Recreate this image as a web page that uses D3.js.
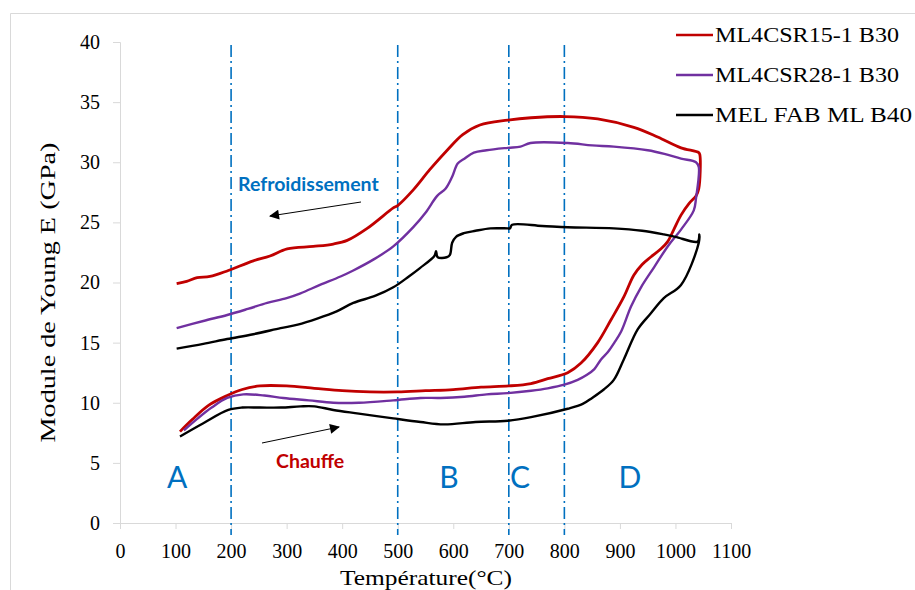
<!DOCTYPE html>
<html>
<head>
<meta charset="utf-8">
<script src="https://cdn.jsdelivr.net/npm/d3@7"></script>
<style>
  body { margin: 0; background: #fff; }
</style>
</head>
<body>
<div id="chart"></div>
<script>
/* Young's modulus vs temperature - heating then cooling loop for 3 samples */

// ML4CSR15-1 B30 (heating then cooling)
const redT = [108,130,160,193,220,252,300,350,400,450,500,550,600,650,700,740,770,806,830,860,884,907,925,940,955,974,986,997,1010,1025,1037,1042,1044,
              1042,1010,968,925,860,800,740,698,648,617,589,558,528,500,492,445,409,384,348,301,270,240,195,162,139,120,102];
const redE = [7.6,8.6,9.8,10.6,11.1,11.4,11.4,11.2,11.0,10.9,10.9,11.0,11.1,11.3,11.4,11.6,12.0,12.5,13.3,15.0,16.9,18.8,20.6,21.5,22.1,22.8,23.4,24.4,25.6,26.6,27.2,27.8,30.6,
              30.8,31.2,32.1,32.9,33.6,33.8,33.7,33.5,33.1,32.3,31.0,29.4,27.7,26.4,26.2,24.5,23.5,23.2,23.0,22.8,22.2,21.8,21.0,20.5,20.4,20.1,19.9];

// ML4CSR28-1 B30
const purpleT = [115,140,165,193,222,260,294,340,384,430,492,541,577,620,660,698,740,770,800,824,840,854,866,878,890,902,920,938,962,986,1010,1033,1037,1042,
                 1037,1010,980,950,889,850,806,739,721,698,660,637,620,608,598,586,571,550,528,492,456,420,397,360,325,300,265,230,193,150,102];
const purpleE = [7.7,8.7,9.6,10.4,10.7,10.6,10.4,10.2,10.0,10.0,10.2,10.4,10.4,10.5,10.7,10.8,11.0,11.2,11.5,11.9,12.3,12.8,13.6,14.2,15.0,15.9,18.0,19.6,21.3,23.0,24.4,26.0,27.0,29.6,
                 30.0,30.3,30.7,31.0,31.3,31.4,31.6,31.6,31.3,31.2,31.0,30.8,30.3,29.9,28.8,27.8,27.2,25.8,24.6,23.0,21.9,21.0,20.5,19.8,19.1,18.7,18.3,17.8,17.3,16.8,16.2];

// MEL FAB ML B40
const blackT = [108,150,195,220,252,290,325,350,384,430,492,541,583,640,698,740,806,833,850,871,889,907,932,955,979,1010,1042,1043,
                1040,1000,979,940,889,806,760,706,702,698,667,640,619,605,598,594,588,572,569,566,540,520,492,460,420,390,355,320,289,240,193,150,102];
const blackE = [7.2,8.3,9.4,9.6,9.6,9.6,9.7,9.7,9.4,9.1,8.7,8.4,8.2,8.4,8.5,8.8,9.5,9.9,10.4,11.1,11.9,13.6,16.1,17.4,18.7,19.8,23.3,24.0,
                23.4,23.8,24.0,24.3,24.5,24.6,24.7,24.8,24.5,24.5,24.5,24.3,24.1,23.8,23.3,22.3,22.1,22.1,22.6,22.2,21.2,20.5,19.6,18.9,18.3,17.6,17.0,16.5,16.2,15.7,15.3,14.9,14.5];

const seriesNames = ["ML4CSR15-1 B30", "ML4CSR28-1 B30", "MEL FAB ML B40"];
const seriesColors = ["#c00000", "#7030a0", "#000000"];

const xTicks = [0,100,200,300,400,500,600,700,800,900,1000,1100];
const yTicks = [0,5,10,15,20,25,30,35,40];

// zone boundaries and labels
const zoneLines = [200, 500, 700, 800];
const zoneLabels = ["A", "B", "C", "D"];
const zoneLabelT = [103, 592, 720, 918];

const width = 915, height = 590,
      margin = ({top: 42, right: 184, bottom: 67, left: 120});

const serif = "'Liberation Serif', 'DejaVu Serif', serif";
const sans = "Lato, 'Open Sans', sans-serif";

const svg = d3.select("#chart")
  .append("svg")
  .attr("width", width)
  .attr("height", height)
  .style("font-family", serif);

const x = d3.scaleLinear()
  .domain([0, 1100])
  .range([margin.left, width - margin.right]);

const y = d3.scaleLinear()
  .domain([0, 40])
  .range([height - margin.bottom, margin.top]);

// chart frame (only top and left visible in the picture)
svg.append("path")
  .attr("d", `M10.5,${height} V13.5 H${width}`)
  .attr("fill", "none")
  .attr("stroke", "#d9d9d9");

const xAxis = g => g
  .attr("transform", `translate(0,${y(0)})`)
  .call(d3.axisBottom(x).tickValues(xTicks).tickFormat(d3.format("d"))
          .tickSizeOuter(0).tickSize(6).tickPadding(15))
  .call(g => g.selectAll("line, path").attr("stroke", "#d9d9d9"))
  .call(g => g.selectAll("text").attr("fill", "#000")
                .style("font-size", "20px").style("font-family", serif));

const yAxis = g => g
  .attr("transform", `translate(${x(0)},0)`)
  .call(d3.axisLeft(y).tickValues(yTicks).tickSizeOuter(0).tickSize(7).tickPadding(13))
  .call(g => g.selectAll("line, path").attr("stroke", "#d9d9d9"))
  .call(g => g.selectAll("text").attr("fill", "#000")
                .style("font-size", "20px").style("font-family", serif));

svg.append("g").call(xAxis);
svg.append("g").call(yAxis);

// axis titles
svg.append("text")
  .attr("x", 426)
  .attr("y", 585)
  .attr("text-anchor", "middle")
  .attr("textLength", 172)
  .attr("lengthAdjust", "spacingAndGlyphs")
  .style("font-size", "21px")
  .text("Température(°C)");

svg.append("text")
  .attr("transform", `translate(55,${(y(0) + y(40)) / 2 + 10}) rotate(-90)`)
  .attr("text-anchor", "middle")
  .attr("textLength", 300)
  .attr("lengthAdjust", "spacingAndGlyphs")
  .style("font-size", "21px")
  .text("Module de Young E (GPa)");

// zone separators, dash-dot
svg.selectAll(".zone")
  .data(zoneLines)
  .join("line")
  .attr("class", "zone")
  .attr("x1", d => x(d)).attr("x2", d => x(d))
  .attr("y1", y(40) + 3).attr("y2", y(0) + 12)
  .attr("stroke", "#0070c0")
  .attr("stroke-width", 1.6)
  .attr("stroke-dasharray", "12,4,2,4");

svg.selectAll(".zlab")
  .data(zoneLabels)
  .join("text")
  .attr("class", "zlab")
  .attr("x", (d, i) => x(zoneLabelT[i]))
  .attr("y", 488)
  .attr("text-anchor", "middle")
  .attr("fill", "#0070c0")
  .style("font-family", sans)
  .style("font-size", "30px")
  .text(d => d);

// curves
const line = d3.line()
  .x(d => x(d[0]))
  .y(d => y(d[1]))
  .curve(d3.curveCatmullRom.alpha(0.5));

const series = [
  d3.zip(redT, redE),
  d3.zip(purpleT, purpleE),
  d3.zip(blackT, blackE)
];

svg.selectAll(".curve")
  .data(series)
  .join("path")
  .attr("class", "curve")
  .attr("d", line)
  .attr("fill", "none")
  .attr("stroke", (d, i) => seriesColors[i])
  .attr("stroke-width", (d, i) => i == 0 ? 2.8 : 2.4)
  .attr("stroke-linejoin", "round");

// arrows + annotations
svg.append("defs").append("marker")
  .attr("id", "head")
  .attr("viewBox", "0 0 10 10")
  .attr("refX", 9).attr("refY", 5)
  .attr("markerWidth", 11).attr("markerHeight", 10)
  .attr("markerUnits", "userSpaceOnUse")
  .attr("orient", "auto")
  .append("path")
  .attr("d", "M0,0 L10,5 L0,10 Z")
  .attr("fill", "#000");

svg.append("line")
  .attr("x1", 361).attr("y1", 202)
  .attr("x2", 270).attr("y2", 216)
  .attr("stroke", "#000").attr("stroke-width", 1)
  .attr("marker-end", "url(#head)");

svg.append("line")
  .attr("x1", 262).attr("y1", 443)
  .attr("x2", 339).attr("y2", 427)
  .attr("stroke", "#000").attr("stroke-width", 1)
  .attr("marker-end", "url(#head)");

svg.append("text")
  .attr("x", 238).attr("y", 191)
  .attr("fill", "#0070c0")
  .style("font-family", sans)
  .style("font-weight", "bold")
  .style("font-size", "19.5px")
  .text("Refroidissement");

svg.append("text")
  .attr("x", 276).attr("y", 468)
  .attr("fill", "#c00000")
  .style("font-family", sans)
  .style("font-weight", "bold")
  .style("font-size", "19.5px")
  .text("Chauffe");

// legend
const legend = svg.selectAll(".leg")
  .data(seriesNames)
  .join("g")
  .attr("class", "leg")
  .attr("transform", (d, i) => `translate(676,${35 + i * 40})`);

legend.append("line")
  .attr("x1", 0).attr("x2", 37)
  .attr("stroke", (d, i) => seriesColors[i])
  .attr("stroke-width", 2.6);

legend.append("text")
  .attr("x", 39).attr("y", 7)
  .attr("textLength", (d, i) => i == 2 ? 197 : 184)
  .attr("lengthAdjust", "spacingAndGlyphs")
  .style("font-size", "21px")
  .text(d => d);
</script>
</body>
</html>
